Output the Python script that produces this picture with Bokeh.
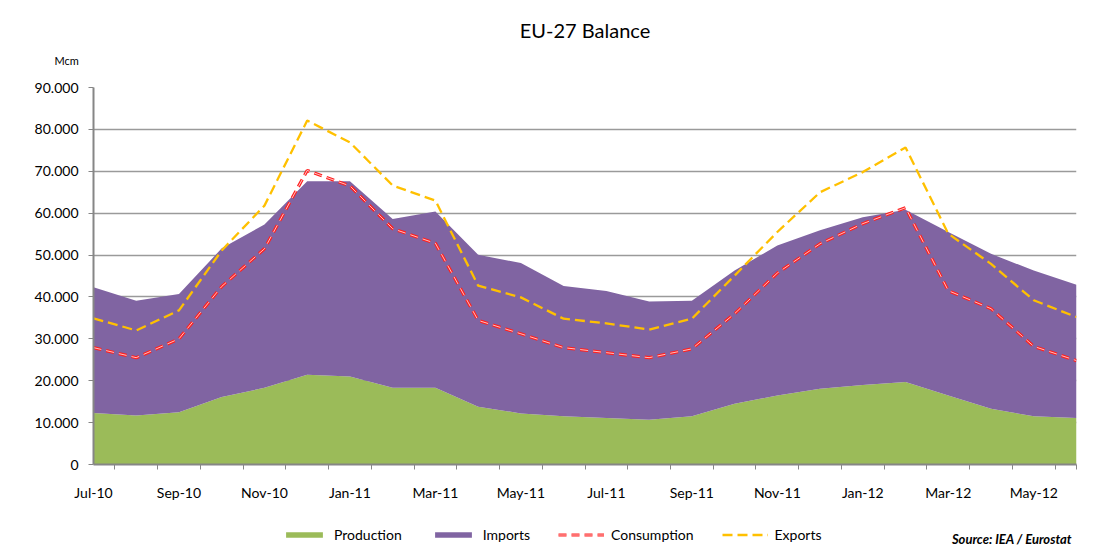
from bokeh.plotting import figure
from bokeh.layouts import column
from bokeh.models import (ColumnDataSource, FixedTicker, Legend, LegendItem, Range1d, Title, Label)
from bokeh.embed import file_html
from bokeh.resources import INLINE

months = ["Jul-10", "Aug-10", "Sep-10", "Oct-10", "Nov-10", "Dec-10", "Jan-11", "Feb-11",
          "Mar-11", "Apr-11", "May-11", "Jun-11", "Jul-11", "Aug-11", "Sep-11", "Oct-11",
          "Nov-11", "Dec-11", "Jan-12", "Feb-12", "Mar-12", "Apr-12", "May-12", "Jun-12"]

production = [12300, 11700, 12500, 16100, 18300, 21400, 21000, 18300, 18300, 13800, 12200, 11500,
              11100, 10700, 11500, 14500, 16500, 18100, 19000, 19700, 16500, 13300, 11500, 11100]
imports = [30000, 27400, 28200, 35500, 39000, 46200, 46600, 40300, 42100, 36300, 35900, 31100,
           30300, 28200, 27600, 31800, 35800, 37800, 40000, 41100, 39000, 37000, 34800, 31800]
consumption = [27900, 25500, 30000, 42500, 51500, 70200, 66500, 56300, 52800, 34400, 31200, 27900,
               26700, 25500, 27600, 36000, 45700, 52700, 57500, 61300, 41500, 37200, 28200, 24800]
exports = [34900, 32000, 36800, 51100, 61800, 82100, 76900, 66600, 63000, 42700, 39900, 34800,
           33700, 32200, 34800, 45100, 55500, 65000, 69800, 75700, 55100, 47900, 39200, 35200]

y_ticks = [0, 10000, 20000, 30000, 40000, 50000, 60000, 70000, 80000, 90000]
y_tick_labels = ["0", "10.000", "20.000", "30.000", "40.000", "50.000", "60.000", "70.000",
                 "80.000", "90.000"]
series_names = ["Production", "Imports", "Consumption", "Exports"]

FONT = "Lato"
GREEN = "#9BBB59"
PURPLE = "#8064A2"
RED = "#FF2020"
YELLOW = "#FFC000"
W = 1091

idx = list(range(len(months)))
src = ColumnDataSource(dict(x=idx, production=production, imports=imports,
                            consumption=consumption, exports=exports))

# ---------------- main chart ----------------
p = figure(width=W, height=510, output_backend="svg", toolbar_location=None,
           x_range=Range1d(0, len(months) - 1), y_range=Range1d(0, 90000),
           min_border_left=93, min_border_right=15, min_border_top=87, min_border_bottom=46,
           title="EU-27 Balance")
p.outline_line_color = None
p.background_fill_color = "white"
p.border_fill_color = "white"

p.title.align = "center"
p.title.text_font = FONT
p.title.text_font_size = "20px"
p.title.text_font_style = "normal"
p.title.text_color = "#000000"
p.title.standoff = -22

p.add_layout(Title(text="Mcm", align="left", offset=-39, text_font=FONT,
                   text_font_size="11px", text_font_style="normal", text_color="#000000",
                   standoff=42), "above")

areas = p.varea_stack(stackers=["production", "imports"], x="x", source=src,
                      color=[GREEN, PURPLE])

p.line("x", "consumption", source=src, line_color=RED, line_width=3.2, line_dash="8 5")
p.line("x", "consumption", source=src, line_color="#ffffff", line_width=0.9,
       line_dash="8 5", line_alpha=0.8)
p.line("x", "exports", source=src, line_color=YELLOW, line_width=2.3, line_dash="10 5")

label_ticks = idx[::2]
p.xaxis.ticker = FixedTicker(ticks=label_ticks,
                             minor_ticks=[i + 0.5 for i in idx[:-1]] + [idx[-1]])
p.xaxis.major_label_overrides = {i: months[i] for i in label_ticks}
p.xaxis.major_tick_line_color = None
p.xaxis.major_tick_out = 0
p.xaxis.major_tick_in = 0
p.xaxis.minor_tick_out = 5
p.xaxis.minor_tick_in = 0
p.xaxis.minor_tick_line_color = "#868686"
p.xaxis.major_label_standoff = 14
p.xaxis.axis_line_color = "#868686"
p.xaxis.axis_line_width = 2

p.yaxis.ticker = FixedTicker(ticks=y_ticks, minor_ticks=[])
p.yaxis.major_label_overrides = {t: l for t, l in zip(y_ticks, y_tick_labels)}
p.yaxis.major_tick_out = 5
p.yaxis.major_tick_in = 0
p.yaxis.major_tick_line_color = "#868686"
p.yaxis.major_label_standoff = 10
p.yaxis.axis_line_color = "#868686"
p.yaxis.axis_line_width = 2

for ax in (p.xaxis, p.yaxis):
    ax.major_label_text_font = FONT
    ax.major_label_text_font_size = "14px"
    ax.major_label_text_color = "#000000"

p.xgrid.grid_line_color = None
p.ygrid.ticker = FixedTicker(ticks=y_ticks)
p.ygrid.grid_line_color = "#9a9a9a"
p.ygrid.grid_line_width = 1.3

# ---------------- legend strip ----------------
q = figure(width=W, height=49, output_backend="svg", toolbar_location=None,
           x_range=Range1d(0, W), y_range=Range1d(0, 49),
           x_axis_type=None, y_axis_type=None,
           min_border_left=0, min_border_right=0, min_border_top=0, min_border_bottom=0)
q.grid.visible = False
q.outline_line_color = None
q.background_fill_color = "white"
q.border_fill_color = "white"

off = dict(x=[-20, -10], y1=[0, 0], y2=[1, 1])
g_prod = q.varea(x=off["x"], y1=off["y1"], y2=off["y2"], color=GREEN)
g_imp = q.varea(x=off["x"], y1=off["y1"], y2=off["y2"], color=PURPLE)
g_c1 = q.line(x=off["x"], y=off["y1"], line_color=RED, line_width=3.2, line_dash="8 5")
g_c2 = q.line(x=off["x"], y=off["y1"], line_color="#ffffff", line_width=0.9,
              line_dash="8 5", line_alpha=0.8)
g_exp = q.line(x=off["x"], y=off["y1"], line_color=YELLOW, line_width=2.3, line_dash="10 5")

legend = Legend(items=[
    LegendItem(label=series_names[0], renderers=[g_prod]),
    LegendItem(label=series_names[1], renderers=[g_imp]),
    LegendItem(label=series_names[2], renderers=[g_c1, g_c2]),
    LegendItem(label=series_names[3], renderers=[g_exp]),
], location=(188, 16), orientation="horizontal")
legend.label_text_font = FONT
legend.label_text_font_size = "14px"
legend.label_text_color = "#000000"
legend.glyph_width = 46
legend.glyph_height = 7
legend.label_standoff = 7
legend.spacing = 28
legend.padding = 0
legend.margin = 0
legend.border_line_color = None
legend.background_fill_alpha = 0
q.add_layout(legend)

q.add_layout(Label(x=1086, y=21, text="Source: IEA / Eurostat", text_font=FONT,
                   text_font_size="13px", text_font_style="bold italic", text_align="right",
                   text_baseline="middle", text_color="#000000"))

layout = column(p, q, spacing=0)
open("out.html", "w").write(file_html(layout, INLINE))
